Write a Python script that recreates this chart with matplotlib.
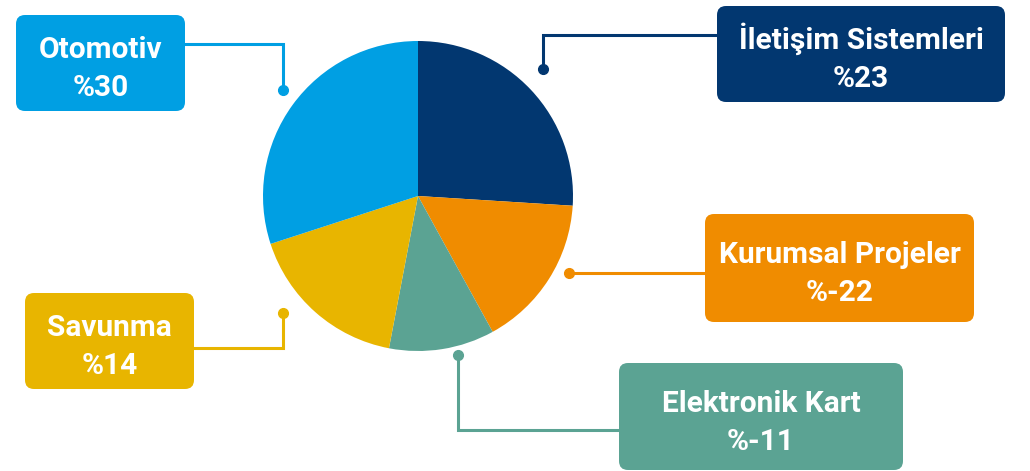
import matplotlib.pyplot as plt
from matplotlib.patches import FancyBboxPatch

# slices, clockwise from 12 o'clock
segments = ["İletişim Sistemleri", "Kurumsal Projeler", "Elektronik Kart", "Savunma", "Otomotiv"]
shares = [26, 16, 11, 17, 30]
change_pct = [23, -22, -11, 14, 30]
colors = ["#023770", "#F08C00", "#5BA393", "#E8B500", "#009FE3"]

W, H = 1030, 471


def py(y):
    # pixel row (top = 0) -> data y
    return H - y


fig = plt.figure(figsize=(W / 100, H / 100), dpi=100)
ax = fig.add_axes([0, 0, 1, 1])

ax.pie(shares, colors=colors, startangle=90, counterclock=False,
       center=(418, py(196)), radius=155, frame=True,
       wedgeprops=dict(linewidth=0))
ax.set_xlim(0, W)
ax.set_ylim(0, H)
ax.set_aspect("equal")
ax.axis("off")

# box (x0, y0, x1, y1) in pixels, connector path, dot position last
layout = {
    "İletişim Sistemleri": ((717, 6, 1005, 102), [(717, 35), (543, 35), (543, 69)]),
    "Kurumsal Projeler": ((705, 214, 974, 322), [(705, 273), (569, 273)]),
    "Elektronik Kart": ((619, 363, 903, 470), [(619, 430), (458, 430), (458, 355)]),
    "Savunma": ((25, 293, 194, 389), [(194, 348), (283, 348), (283, 313)]),
    "Otomotiv": ((16, 15, 185, 111), [(185, 44), (283, 44), (283, 90)]),
}

for name, pct, col in zip(segments, change_pct, colors):
    (x0, y0, x1, y1), path = layout[name]
    xs = [p[0] for p in path]
    ys = [py(p[1]) for p in path]
    ax.plot(xs, ys, color=col, lw=2.2, solid_joinstyle="miter", zorder=2)
    ax.plot(xs[-1], ys[-1], "o", color=col, ms=7, zorder=3)
    box = FancyBboxPatch((x0, py(y1)), x1 - x0, y1 - y0,
                         boxstyle="round,pad=0,rounding_size=9",
                         fc=col, ec="none", zorder=4)
    ax.add_patch(box)
    cx = (x0 + x1) / 2
    cy = (y0 + y1) / 2
    ax.text(cx, py(cy - 5), name, color="white", fontsize=21.5,
            fontfamily="Roboto", fontweight="bold",
            ha="center", va="baseline", zorder=5)
    ax.text(cx, py(cy + 33), f"%{pct}", color="white", fontsize=21.5,
            fontfamily="Roboto", fontweight="bold",
            ha="center", va="baseline", zorder=5)

fig.savefig("out.png", dpi=100)
